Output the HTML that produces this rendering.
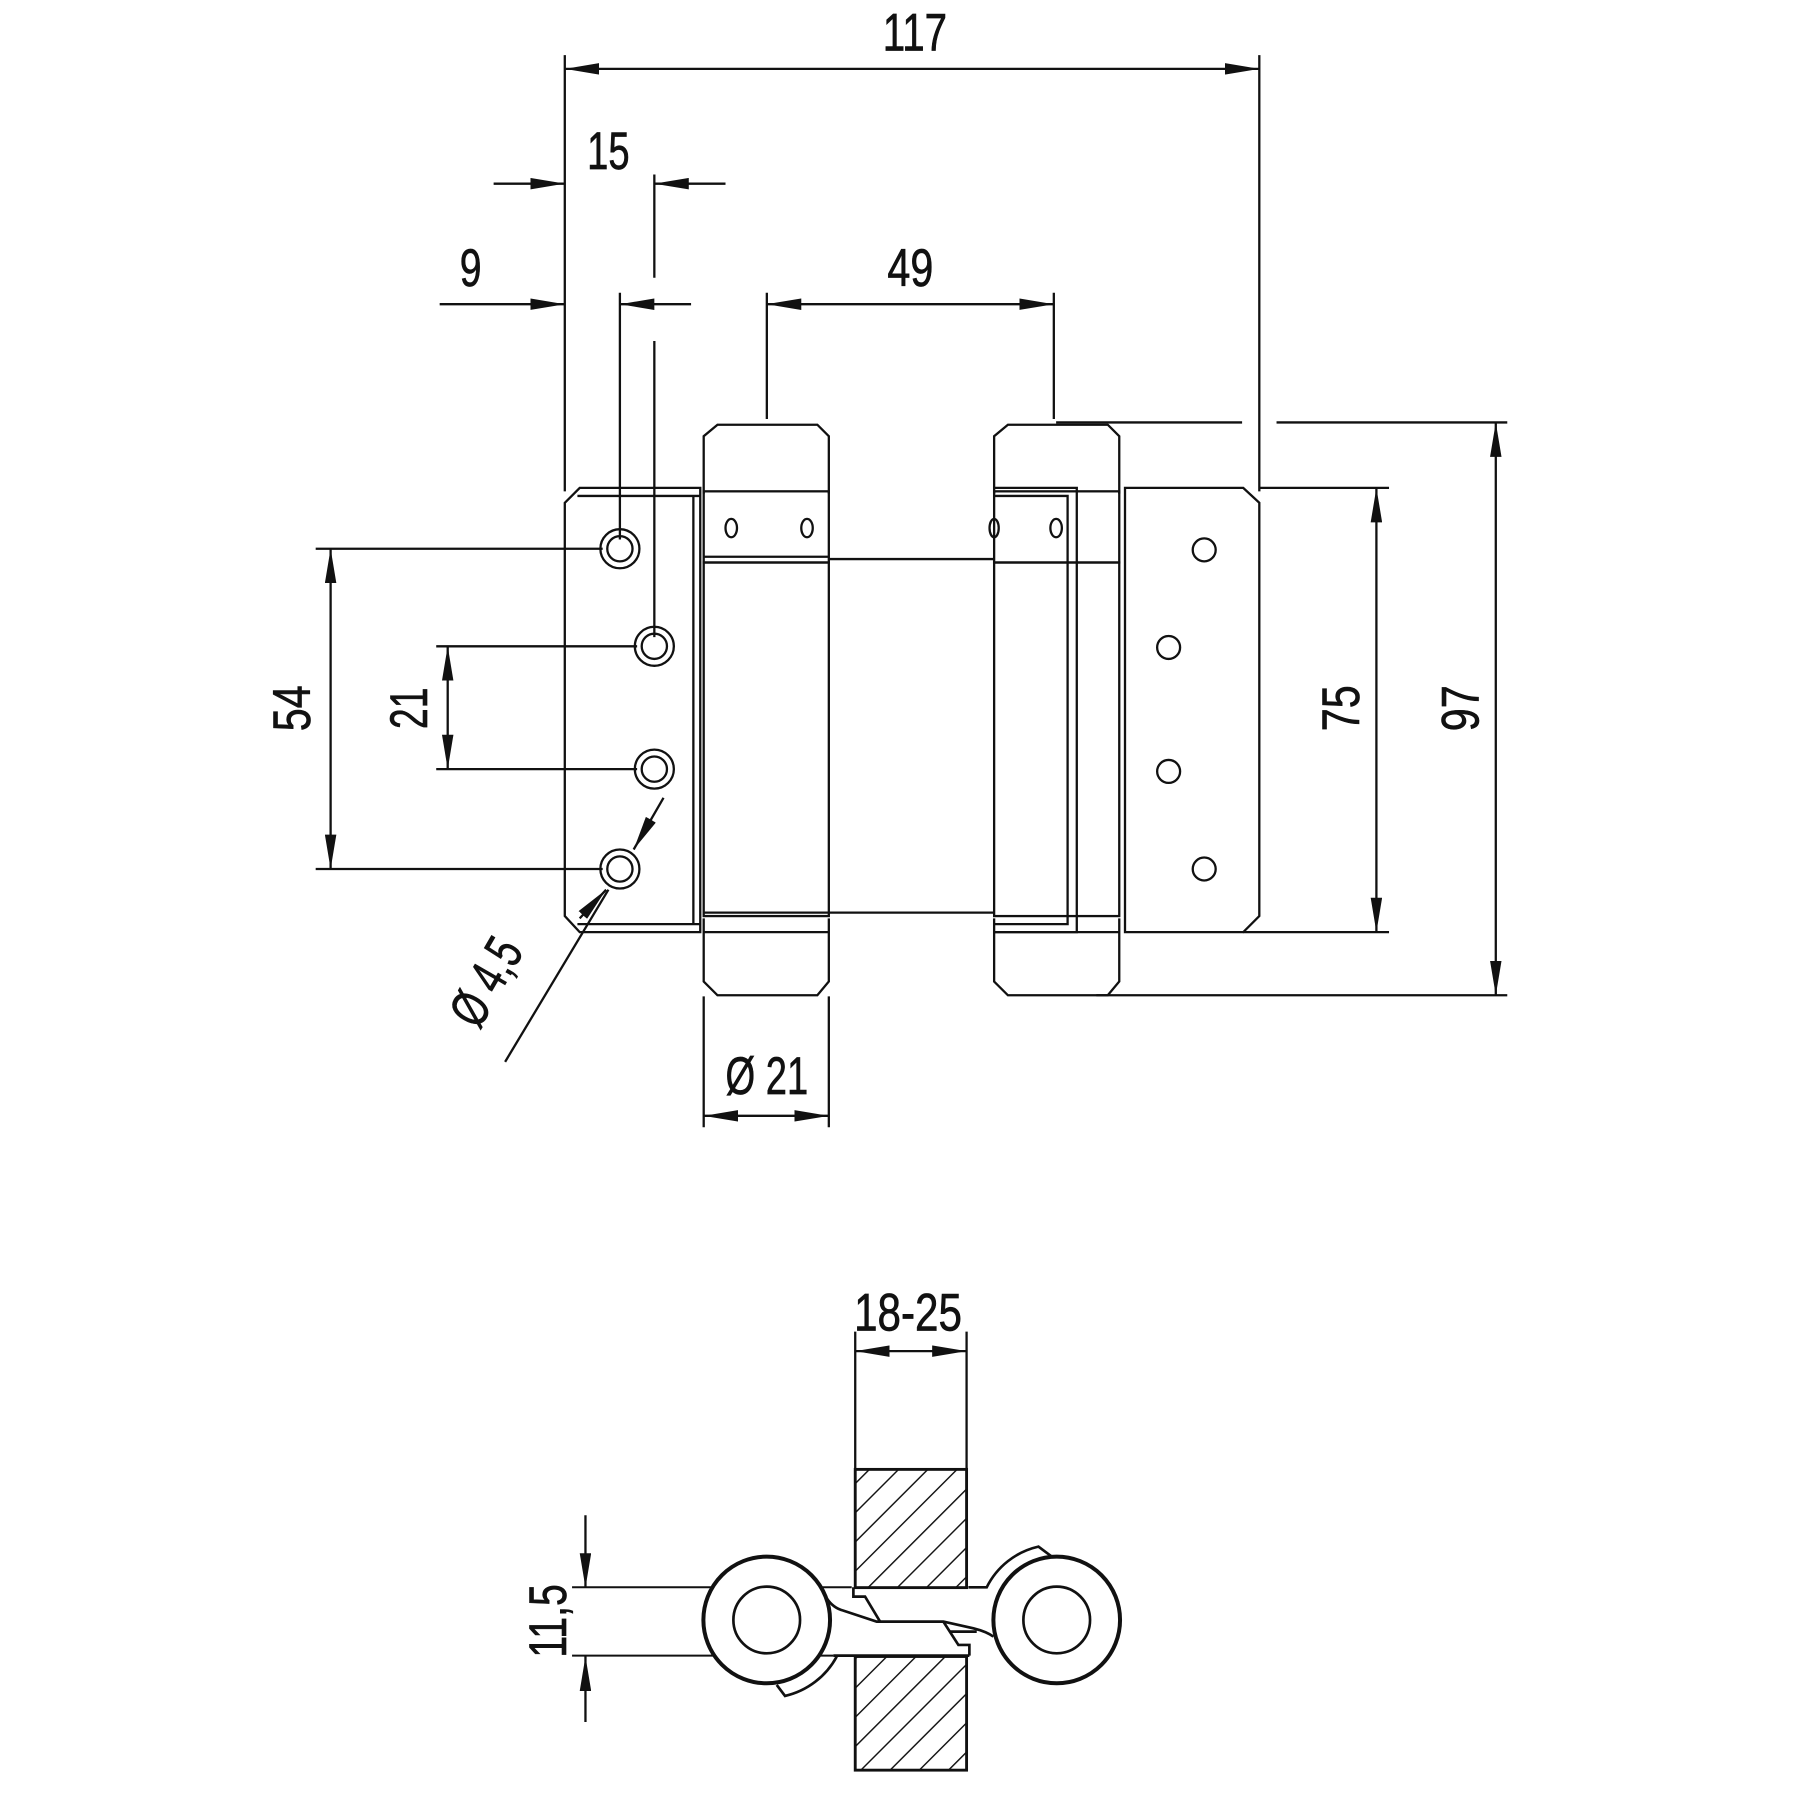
<!DOCTYPE html>
<html><head><meta charset="utf-8"><style>html,body{margin:0;padding:0;background:#fff}svg{display:block}text{font-family:"Liberation Sans",sans-serif;font-size:46px;fill:#111;stroke:#111;stroke-width:0.6}</style></head><body>
<svg width="1800" height="1800" viewBox="0 0 1568 1568" xmlns="http://www.w3.org/2000/svg">
<defs>
<marker id="a" viewBox="0 0 30 10" refX="30" refY="5" markerWidth="30" markerHeight="10" markerUnits="userSpaceOnUse" orient="auto-start-reverse"><path d="M0,0 L30,5 L0,10 z" fill="#111"/></marker>
<pattern id="h" patternUnits="userSpaceOnUse" width="18" height="18" patternTransform="rotate(45)"><line x1="0" y1="0" x2="0" y2="18" stroke="#111" stroke-width="2.5"/></pattern>
</defs>
<g stroke="#111" stroke-width="2" fill="none">
<line x1="492" y1="48" x2="492" y2="428"/>
<line x1="1097" y1="48" x2="1097" y2="428"/>
<line x1="570" y1="152" x2="570" y2="242"/>
<line x1="540" y1="255" x2="540" y2="470"/>
<line x1="570" y1="297" x2="570" y2="555"/>
<line x1="668" y1="255" x2="668" y2="365"/>
<line x1="918" y1="255" x2="918" y2="365"/>
<line x1="492" y1="60" x2="1097" y2="60" marker-start="url(#a)" marker-end="url(#a)"/>
<line x1="430" y1="160" x2="492" y2="160" marker-end="url(#a)"/>
<line x1="632" y1="160" x2="570" y2="160" marker-end="url(#a)"/>
<line x1="383" y1="265" x2="492" y2="265" marker-end="url(#a)"/>
<line x1="602" y1="265" x2="540" y2="265" marker-end="url(#a)"/>
<line x1="668" y1="265" x2="918" y2="265" marker-start="url(#a)" marker-end="url(#a)"/>
<line x1="275" y1="478" x2="525" y2="478"/>
<line x1="275" y1="757" x2="525" y2="757"/>
<line x1="288" y1="478" x2="288" y2="757" marker-start="url(#a)" marker-end="url(#a)"/>
<line x1="380" y1="563" x2="555" y2="563"/>
<line x1="380" y1="670" x2="555" y2="670"/>
<line x1="390" y1="563" x2="390" y2="670" marker-start="url(#a)" marker-end="url(#a)"/>
<line x1="1097" y1="425" x2="1210" y2="425"/>
<line x1="1083" y1="812" x2="1210" y2="812"/>
<line x1="1199" y1="425" x2="1199" y2="812" marker-start="url(#a)" marker-end="url(#a)"/>
<line x1="920" y1="368" x2="1082" y2="368"/>
<line x1="1112" y1="368" x2="1313" y2="368"/>
<line x1="955" y1="867" x2="1313" y2="867"/>
<line x1="1303" y1="368" x2="1303" y2="867" marker-start="url(#a)" marker-end="url(#a)"/>
<line x1="440" y1="925" x2="530" y2="775"/>
<line x1="578" y1="695" x2="552" y2="740" marker-end="url(#a)"/>
<line x1="505" y1="800" x2="528" y2="775" marker-end="url(#a)"/>
<line x1="613" y1="868" x2="613" y2="982"/>
<line x1="722" y1="868" x2="722" y2="982"/>
<line x1="613" y1="972" x2="722" y2="972" marker-start="url(#a)" marker-end="url(#a)"/>
<path d="M505,425 L610,425 L610,812 L505,812 L492,798 L492,438 Z"/>
<line x1="503" y1="432" x2="610" y2="432"/>
<line x1="503" y1="805" x2="610" y2="805"/>
<line x1="604" y1="432" x2="604" y2="805"/>
<path d="M613,430 L613,380 L625,370 L712,370 L722,380 L722,430"/>
<rect x="613" y="428" width="109" height="62"/>
<rect x="613" y="490" width="109" height="308"/>
<line x1="613" y1="485" x2="722" y2="485"/>
<line x1="613" y1="795" x2="722" y2="795"/>
<path d="M613,800 L613,855 L625,867 L712,867 L722,855 L722,800"/>
<line x1="613" y1="812" x2="722" y2="812"/>
<ellipse cx="637" cy="460" rx="5" ry="8"/><ellipse cx="703" cy="460" rx="5" ry="8"/>
<line x1="722" y1="487" x2="866" y2="487"/>
<line x1="722" y1="795" x2="866" y2="795"/>
<path d="M866,430 L866,380 L878,370 L965,370 L975,380 L975,430"/>
<rect x="866" y="428" width="109" height="62"/>
<rect x="866" y="490" width="109" height="308"/>
<path d="M866,800 L866,855 L878,867 L965,867 L975,855 L975,800"/>
<line x1="866" y1="812" x2="975" y2="812"/>
<path d="M866,425 L938,425 L938,812 L866,812"/>
<path d="M866,432 L930,432 L930,805 L866,805"/>
<ellipse cx="866" cy="460" rx="4" ry="8"/><ellipse cx="920" cy="460" rx="5" ry="8"/>
<path d="M980,425 L1083,425 L1097,438 L1097,798 L1083,812 L980,812 Z"/>
<circle cx="1049" cy="479" r="10"/><circle cx="1018" cy="564" r="10"/><circle cx="1018" cy="672" r="10"/><circle cx="1049" cy="757" r="10"/>
<circle cx="540" cy="478" r="17"/><circle cx="540" cy="478" r="11"/>
<circle cx="570" cy="563" r="17"/><circle cx="570" cy="563" r="11"/>
<circle cx="570" cy="670" r="17"/><circle cx="570" cy="670" r="11"/>
<circle cx="540" cy="757" r="17"/><circle cx="540" cy="757" r="11"/>
<line x1="745" y1="1160" x2="745" y2="1280"/>
<line x1="842" y1="1160" x2="842" y2="1280"/>
<line x1="745" y1="1177" x2="842" y2="1177" marker-start="url(#a)" marker-end="url(#a)"/>
<line x1="510" y1="1320" x2="510" y2="1383" marker-end="url(#a)"/>
<line x1="510" y1="1500" x2="510" y2="1443" marker-end="url(#a)"/>
<rect x="745" y="1280" width="97" height="103" fill="url(#h)" stroke-width="2.5"/>
<rect x="745" y="1443" width="97" height="99" fill="url(#h)" stroke-width="2.5"/>
</g>
<g transform="translate(592.4,1289.2) scale(0.29037)" stroke="#111" fill="none" stroke-width="8">
<line x1="-324" y1="322" x2="515" y2="322" stroke-width="6"/>
<line x1="-324" y1="527" x2="460" y2="527" stroke-width="6"/>
<line x1="460" y1="527" x2="868" y2="527"/>
<path d="M865,322 L920,322 A230,230 0 0 1 1075,200 L1115,230"/>
<path d="M470,530 A236,236 0 0 1 315,648 L290,615"/>
<path d="M440,355 Q460,385 490,392 L590,425 L790,425 L880,445 Q920,455 940,470"/>
<path d="M520,322 L520,350 L555,350 L600,425"/>
<path d="M790,425 L835,495 L868,495 L868,527"/>
<line x1="808" y1="455" x2="890" y2="455"/>
<circle cx="260" cy="420" r="190" fill="#fff" stroke-width="12"/><circle cx="260" cy="420" r="100"/>
<circle cx="1130" cy="420" r="190" fill="#fff" stroke-width="12"/><circle cx="1130" cy="420" r="100"/>
</g>
<text x="797" y="44" text-anchor="middle" textLength="56" lengthAdjust="spacingAndGlyphs">117</text>
<text x="530" y="147" text-anchor="middle" textLength="37" lengthAdjust="spacingAndGlyphs">15</text>
<text x="410" y="249" text-anchor="middle" textLength="19" lengthAdjust="spacingAndGlyphs">9</text>
<text x="793" y="249" text-anchor="middle" textLength="40" lengthAdjust="spacingAndGlyphs">49</text>
<text transform="translate(270,617) rotate(-90)" text-anchor="middle" textLength="40" lengthAdjust="spacingAndGlyphs">54</text>
<text transform="translate(372,617) rotate(-90)" text-anchor="middle" textLength="36" lengthAdjust="spacingAndGlyphs">21</text>
<text transform="translate(1184,617) rotate(-90)" text-anchor="middle" textLength="40" lengthAdjust="spacingAndGlyphs">75</text>
<text transform="translate(1288,617) rotate(-90)" text-anchor="middle" textLength="40" lengthAdjust="spacingAndGlyphs">97</text>
<text transform="translate(437,863) rotate(-60)" text-anchor="middle" textLength="80" lengthAdjust="spacingAndGlyphs">Ø 4,5</text>
<text x="668" y="953" text-anchor="middle" textLength="72" lengthAdjust="spacingAndGlyphs">Ø 21</text>
<text x="791" y="1159" text-anchor="middle" textLength="94" lengthAdjust="spacingAndGlyphs">18-25</text>
<text transform="translate(493,1412) rotate(-90)" text-anchor="middle" textLength="64" lengthAdjust="spacingAndGlyphs">11,5</text>
</svg>
</body></html>
